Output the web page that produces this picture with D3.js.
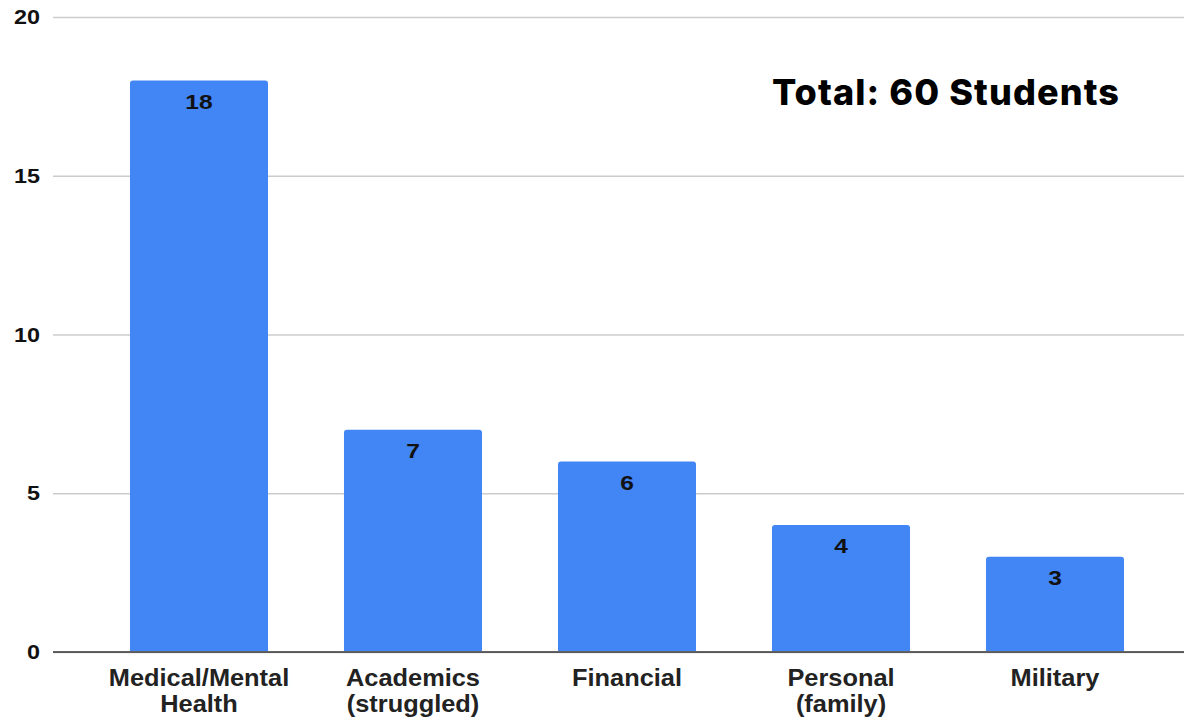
<!DOCTYPE html>
<html>
<head>
<meta charset="utf-8">
<script src="https://cdn.jsdelivr.net/npm/d3@7"></script>
<style>
  html, body { margin: 0; padding: 0; background: #fff; }
  svg { display: block; }
</style>
</head>
<body>
<svg id="chart" width="1184" height="717"></svg>
<script>
// Reasons students gave for leaving
const categories = [["Medical/Mental", "Health"], ["Academics", "(struggled)"], ["Financial"], ["Personal", "(family)"], ["Military"]];
const counts = [18, 7, 6, 4, 3];
const yTicks = [0, 5, 10, 15, 20];
const totalLabel = "Total: 60 Students";

const W = 1184, H = 717;
const svg = d3.select("#chart");
const sansFont = "'Liberation Sans', Arial, Helvetica, sans-serif";

const keys = categories.map(c => c.join(" "));
const x = d3.scaleBand().domain(keys).range([92, 1162]).paddingInner(0.355).paddingOuter(0.1775);
const y = d3.scaleLinear().domain([0, 20]).range([652, 17]);

const gridLeft = 53, gridRight = W;

// horizontal gridlines
const yAxis = d3.axisLeft(y).tickValues(yTicks).tickSize(0).tickPadding(0).tickFormat("");
const yg = svg.append("g").attr("transform", `translate(${gridLeft},0)`).call(yAxis);
yg.select(".domain").remove();
yg.selectAll(".tick line")
  .attr("x2", gridRight - gridLeft)
  .attr("stroke", "#cccccc")
  .attr("stroke-width", 1.4);

// y tick labels (slightly widened glyphs)
svg.append("g").selectAll("text")
  .data(yTicks)
  .join("text")
  .attr("transform", d => `translate(40,${y(d) + 7}) scale(1.17,1)`)
  .attr("text-anchor", "end")
  .attr("fill", "#111")
  .style("font-family", sansFont)
  .style("font-weight", "bold")
  .style("font-size", "20px")
  .text(d => d);

// bars with slightly rounded top corners
const r = 3;
function barPath(x0, w, top, bottom) {
  return `M${x0},${bottom}V${top + r}Q${x0},${top} ${x0 + r},${top}H${x0 + w - r}Q${x0 + w},${top} ${x0 + w},${top + r}V${bottom}Z`;
}
svg.append("g").selectAll("path")
  .data(counts)
  .join("path")
  .attr("d", (d, i) => barPath(x(keys[i]), x.bandwidth(), y(d), y(0) - 1))
  .attr("fill", "#4285F4");

// baseline drawn over bars
svg.append("line")
  .attr("x1", gridLeft).attr("x2", gridRight)
  .attr("y1", y(0)).attr("y2", y(0))
  .attr("stroke", "#333").attr("stroke-width", 1.6);

// value labels inside bar tops
svg.append("g").selectAll("text")
  .data(counts)
  .join("text")
  .attr("transform", (d, i) => `translate(${x(keys[i]) + x.bandwidth() / 2},${y(d) + 28}) scale(1.17,1)`)
  .attr("text-anchor", "middle")
  .attr("fill", "#111")
  .style("font-family", sansFont)
  .style("font-weight", "bold")
  .style("font-size", "21px")
  .text(d => d);

// category labels
const cat = svg.append("g").selectAll("text")
  .data(categories)
  .join("text")
  .attr("transform", (d, i) => `translate(${x(keys[i]) + x.bandwidth() / 2},686) scale(1.08,1)`)
  .attr("text-anchor", "middle")
  .attr("fill", "#222")
  .style("font-family", sansFont)
  .style("font-weight", "bold")
  .style("font-size", "23.5px");
cat.selectAll("tspan")
  .data(d => d)
  .join("tspan")
  .attr("x", 0)
  .attr("dy", (d, j) => j === 0 ? 0 : 26)
  .text(d => d);

// total annotation
svg.append("text")
  .attr("x", 1120)
  .attr("y", 105)
  .attr("text-anchor", "end")
  .attr("fill", "#000")
  .style("font-family", "Inter, 'Open Sans', sans-serif")
  .style("font-weight", "800")
  .style("font-size", "36px")
  .style("letter-spacing", "1.1px")
  .text(totalLabel);
</script>
</body>
</html>
